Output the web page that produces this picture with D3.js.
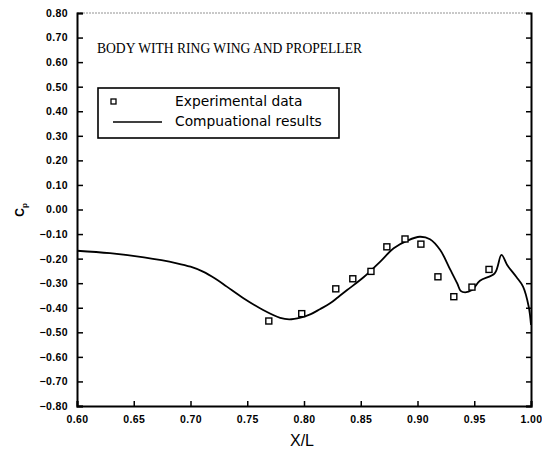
<!DOCTYPE html>
<html>
<head>
<meta charset="utf-8">
<script src="https://cdn.jsdelivr.net/npm/d3@7"></script>
<style>
  body { margin: 0; background: #fff; }
  svg { display: block; }
</style>
</head>
<body>
<div class="chart"></div>
<script>
// measured points (X/L, Cp)
var expX = [0.769, 0.798, 0.828, 0.843, 0.859, 0.873, 0.889, 0.903, 0.918, 0.932, 0.948, 0.963];
var expCp = [-0.454, -0.424, -0.323, -0.282, -0.252, -0.152, -0.120, -0.141, -0.274, -0.355, -0.316, -0.244];

// computed curve
var calcX = [0.600, 0.629, 0.659, 0.688, 0.700, 0.711, 0.722, 0.732, 0.747, 0.764, 0.779, 0.787, 0.797,
             0.806, 0.814, 0.823, 0.830, 0.838, 0.853, 0.867, 0.879, 0.891, 0.902, 0.911, 0.920, 0.929,
             0.935, 0.938, 0.942, 0.948, 0.955, 0.968, 0.974, 0.979, 0.987, 0.993, 0.998, 1.000];
var calcCp = [-0.168, -0.178, -0.195, -0.219, -0.233, -0.253, -0.282, -0.314, -0.362, -0.409, -0.441, -0.447, -0.440,
              -0.426, -0.406, -0.382, -0.357, -0.328, -0.274, -0.213, -0.158, -0.127, -0.111, -0.121, -0.165, -0.246,
              -0.301, -0.331, -0.337, -0.328, -0.290, -0.260, -0.185, -0.226, -0.274, -0.314, -0.396, -0.470];

var xTicks = [0.60, 0.65, 0.70, 0.75, 0.80, 0.85, 0.90, 0.95, 1.00];
var yTicks = d3.range(-8, 9).map(function(i) { return i / 10; });

var title = "BODY WITH RING WING AND PROPELLER";
var legendLabels = ["Experimental data", "Compuational results"];

var width = 542, height = 451;
var margin = {top: 13, right: 11, bottom: 45, left: 77};

var svg = d3.select(".chart").append("svg")
  .attr("width", width)
  .attr("height", height);

var x = d3.scaleLinear().domain([0.6, 1.0]).range([margin.left, width - margin.right]);
var y = d3.scaleLinear().domain([-0.8, 0.8]).range([height - margin.bottom, margin.top]);

var tickFont = "'Liberation Sans', Arial, sans-serif";

// frame
svg.append("line")
  .attr("x1", x(0.6)).attr("x2", x(1.0))
  .attr("y1", y(0.8)).attr("y2", y(0.8))
  .attr("stroke", "#777").attr("stroke-width", 0.8)
  .attr("stroke-dasharray", "2,1");

var yAxisL = d3.axisLeft(y).tickValues(yTicks).tickSize(-6).tickPadding(9)
  .tickFormat(d3.format(".2f"));
var gL = svg.append("g").attr("transform", "translate(" + x(0.6) + ",0)").call(yAxisL);

var yAxisR = d3.axisRight(y).tickValues(yTicks).tickSize(-5).tickFormat("");
var gR = svg.append("g").attr("transform", "translate(" + x(1.0) + ",0)").call(yAxisR);

var xAxis = d3.axisBottom(x).tickValues(xTicks).tickSize(-5).tickPadding(10)
  .tickFormat(d3.format(".2f"));
var gB = svg.append("g").attr("transform", "translate(0," + y(-0.8) + ")").call(xAxis);

[gL, gR, gB].forEach(function(g) {
  g.select(".domain").attr("stroke", "#000").attr("stroke-width", 2);
  g.selectAll(".tick line").attr("stroke", "#000").attr("stroke-width", 1.5);
  g.selectAll(".tick text")
    .attr("fill", "#000")
    .style("font-family", tickFont)
    .style("font-size", "10.5px")
    .style("font-weight", "bold")
    .style("letter-spacing", "0.4px");
});
gL.selectAll(".tick text").text(function(d) { return d3.format(".2f")(d).replace("-", "\u2013"); });

// axis titles
svg.append("text")
  .attr("x", (x(0.6) + x(1.0)) / 2 - 2)
  .attr("y", 446)
  .attr("text-anchor", "middle")
  .style("font-family", tickFont)
  .style("font-size", "16px")
  .text("X/L");

var cp = svg.append("text")
  .attr("transform", "translate(24,210) rotate(-90)")
  .attr("text-anchor", "middle")
  .style("font-family", tickFont)
  .style("font-size", "12px")
  .style("font-weight", "bold");
cp.append("tspan").text("C");
cp.append("tspan").attr("dy", 3).style("font-size", "8px").text("p");

// title
svg.append("text")
  .attr("x", 97).attr("y", 53)
  .attr("textLength", 265).attr("lengthAdjust", "spacingAndGlyphs")
  .style("font-family", "'Liberation Serif', 'Times New Roman', serif")
  .style("font-size", "14px")
  .text(title);

// computed curve
var line = d3.line()
  .x(function(d) { return x(d[0]); })
  .y(function(d) { return y(d[1]); })
  .curve(d3.curveCatmullRom.alpha(0.5));

svg.append("path")
  .datum(d3.zip(calcX, calcCp))
  .attr("d", line)
  .attr("fill", "none")
  .attr("stroke", "#000")
  .attr("stroke-width", 1.8);

// experimental squares
svg.append("g").selectAll("rect")
  .data(d3.zip(expX, expCp))
  .enter().append("rect")
  .attr("x", function(d) { return x(d[0]) - 3; })
  .attr("y", function(d) { return y(d[1]) - 3; })
  .attr("width", 6).attr("height", 6)
  .attr("fill", "#fff")
  .attr("stroke", "#000")
  .attr("stroke-width", 1.4);

// legend
var lg = svg.append("g");
lg.append("rect")
  .attr("x", 98).attr("y", 88)
  .attr("width", 241).attr("height", 50)
  .attr("fill", "#fff").attr("stroke", "#000").attr("stroke-width", 1.6);
lg.append("rect")
  .attr("x", 111).attr("y", 99).attr("width", 5).attr("height", 5)
  .attr("fill", "#fff").attr("stroke", "#000").attr("stroke-width", 1.3);
lg.append("line")
  .attr("x1", 113).attr("x2", 162).attr("y1", 122).attr("y2", 122)
  .attr("stroke", "#000").attr("stroke-width", 1.5);
lg.selectAll("text.lab")
  .data(legendLabels)
  .enter().append("text")
  .attr("class", "lab")
  .attr("x", 175)
  .attr("y", function(d, i) { return 106 + i * 20; })
  .style("font-family", "'DejaVu Sans', sans-serif")
  .style("font-size", "13.8px")
  .text(function(d) { return d; });
</script>
</body>
</html>
